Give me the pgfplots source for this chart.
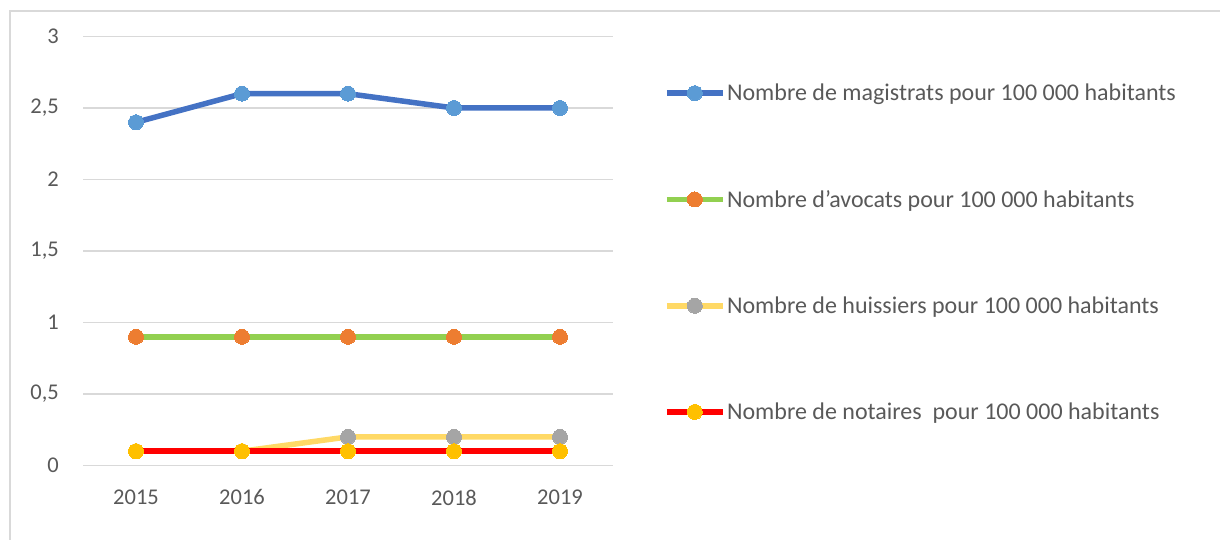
\documentclass[border=0pt]{standalone}
\usepackage{pgfplots}
\pgfplotsset{compat=1.18}
\usepackage{fontspec}
\setmainfont{Carlito}
\definecolor{txt}{HTML}{595959}
\definecolor{gridc}{HTML}{D9D9D9}
\definecolor{c1l}{HTML}{4472C4}
\definecolor{c1m}{HTML}{5B9BD5}
\definecolor{c2l}{HTML}{92D050}
\definecolor{c2m}{HTML}{ED7D31}
\definecolor{c3l}{HTML}{FFD966}
\definecolor{c3m}{HTML}{A5A5A5}
\definecolor{c4l}{HTML}{FF0000}
\definecolor{c4m}{HTML}{FFC000}
\begin{document}
\begin{tikzpicture}[x=1pt,y=1pt]
\useasboundingbox (0,0) rectangle (1220,540);
\draw[gridc, line width=1.5pt] (10,-10) rectangle (1235,529);
\begin{axis}[
  at={(83pt,74.5pt)}, anchor=south west,
  scale only axis, width=530pt, height=429pt,
  xmin=-0.5, xmax=4.5, ymin=0, ymax=3,
  xtick={0,1,2,3,4}, xticklabels={2015,2016,2017,2018,2019},
  ytick={0,0.5,1,1.5,2,2.5,3},
  /pgf/number format/use comma,
  /pgf/number format/assume math mode=true,
  axis line style={draw=none},
  major tick length=0pt,
  ymajorgrids, grid style={gridc, line width=1.5pt},
  tick label style={font=\fontsize{22.5}{27}\selectfont, text=txt},
  yticklabel style={inner sep=0pt, xshift=-24pt},
  xticklabel style={inner sep=0pt, yshift=-24pt},
  clip=false,
  legend cell align=left,
  legend style={draw=none, fill=none, at={(1.096,0.893)}, anchor=north west,
    font=\fontsize{24}{29}\selectfont, text=txt,
    inner sep=0pt, row sep=85pt,
    nodes={inner sep=1.5pt}},
  legend image code/.code={
    \draw[#1, mark repeat=2, mark phase=2] plot coordinates {(0pt,0pt) (28pt,0pt) (56pt,0pt)};
  },
]
\addplot[c1l, line width=5.5pt, mark=*, mark size=7.5pt, mark options={fill=c1m, draw=c1m, line width=0pt}]
  coordinates {(0,2.4) (1,2.6) (2,2.6) (3,2.5) (4,2.5)};
\addlegendentry{Nombre de magistrats pour 100 000 habitants}
\addplot[c2l, line width=5.5pt, mark=*, mark size=7.5pt, mark options={fill=c2m, draw=c2m, line width=0pt}]
  coordinates {(0,0.9) (1,0.9) (2,0.9) (3,0.9) (4,0.9)};
\addlegendentry{Nombre d’avocats pour 100 000 habitants}
\addplot[c3l, line width=5.5pt, mark=*, mark size=7.5pt, mark options={fill=c3m, draw=c3m, line width=0pt}]
  coordinates {(0,0.1) (1,0.1) (2,0.2) (3,0.2) (4,0.2)};
\addlegendentry{Nombre de huissiers pour 100 000 habitants}
\addplot[c4l, line width=5.5pt, mark=*, mark size=7.5pt, mark options={fill=c4m, draw=c4m, line width=0pt}]
  coordinates {(0,0.1) (1,0.1) (2,0.1) (3,0.1) (4,0.1)};
\addlegendentry{Nombre de notaires\ \ pour 100 000 habitants}
\end{axis}
\end{tikzpicture}
\end{document}
